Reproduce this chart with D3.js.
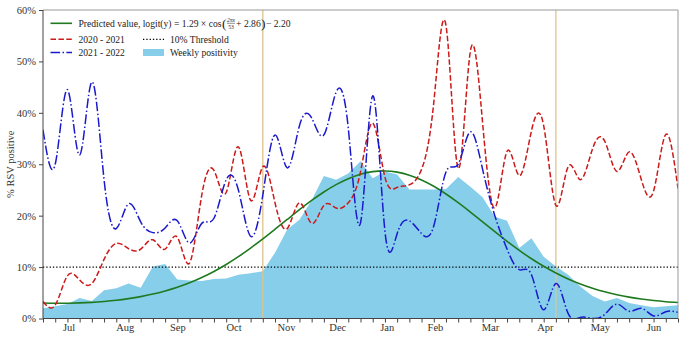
<!DOCTYPE html>
<html>
<head>
<meta charset="utf-8">
<script src="https://cdn.jsdelivr.net/npm/d3@7"></script>
<style>
  html, body { margin: 0; padding: 0; background: #fff; }
  svg { display: block; font-family: "Liberation Serif", "Times New Roman", serif; }
</style>
</head>
<body>
<svg id="chart" width="685" height="338"></svg>
<script>
// ---- data ----
const weeks = d3.range(1, 54);
const positivity = [2.0, 2.4, 2.8, 4.0, 3.4, 5.5, 5.9, 6.8, 6.0, 10.1,
  10.6, 7.6, 7.4, 7.3, 7.7, 7.8, 8.5, 8.8, 9.2, 12.8,
  17.3, 19.2, 23.0, 27.7, 27.0, 28.2, 30.6, 27.3, 28.6, 28.0,
  25.1, 25.1, 25.1, 25.2, 27.5, 25.6, 23.6, 19.8, 19.0, 13.7,
  15.6, 12.0, 10.1, 8.5, 6.2, 4.4, 3.3, 4.0, 3.0, 2.6,
  2.2, 2.4, 2.6];
const season2021 = [3.3, 2.6, 8.3, 7.5, 6.8, 11.5, 14.6, 13.6, 13.5, 15.3,
  13.5, 15.8, 10.8, 24.0, 28.8, 24.5, 33.4, 23.0, 29.5, 22.5,
  17.5, 22.5, 18.5, 22.0, 21.5, 22.5, 28.5, 38.0, 27.5, 25.5,
  26.0, 29.0, 42.0, 57.0, 29.2, 52.0, 38.0, 21.5, 32.5, 27.8,
  36.5, 37.5, 22.0, 29.5, 27.0, 33.0, 34.5, 28.6, 32.4, 27.0,
  24.8, 35.8, 25.3];
const season2122 = [36.7, 30.0, 44.5, 31.8, 46.0, 27.0, 17.5, 22.3, 18.8, 16.7,
  17.6, 19.0, 14.7, 18.5, 19.5, 27.0, 25.0, 16.0, 24.0, 35.7,
  29.3, 37.5, 39.0, 35.7, 44.0, 37.0, 18.6, 43.3, 17.0, 16.5,
  19.0, 16.5, 18.0, 28.5, 30.0, 36.3, 29.0, 20.0, 13.5, 9.5,
  8.5, 1.7, 6.8, 1.0, 0.2, 0.0, 0.8, 2.8, 1.4, 2.0,
  0.5, 1.3, 1.2];
const predicted = [3.01, 2.96, 2.97, 3.03, 3.14, 3.32, 3.55, 3.87, 4.26, 4.75,
  5.36, 6.08, 6.94, 7.97, 9.15, 10.50, 12.02, 13.69, 15.48, 17.36,
  19.26, 21.16, 22.96, 24.61, 26.04, 27.20, 28.06, 28.56, 28.70, 28.47,
  27.87, 26.94, 25.71, 24.22, 22.53, 20.70, 18.79, 16.88, 15.02, 13.26,
  11.62, 10.15, 8.84, 7.69, 6.72, 5.89, 5.19, 4.62, 4.15, 3.78,
  3.49, 3.27, 3.11];
const monthLabels = ["Jul", "Aug", "Sep", "Oct", "Nov", "Dec", "Jan", "Feb", "Mar", "Apr", "May", "Jun"];
const monthWeeks = [3.1, 7.7, 12.0, 16.6, 20.9, 25.1, 29.15, 33.1, 37.6, 42.1, 46.6, 51.0];
const yTicks = [0, 10, 20, 30, 40, 50, 60];
const thresholdValue = 10;
const markerWeeks = [19, 43];

// ---- layout ----
const W = 685, H = 338;
const margin = {left: 43, right: 7, top: 10, bottom: 19.5};
const svg = d3.select("#chart");
const x = d3.scaleLinear().domain([1, 53]).range([margin.left, W - margin.right]);
const y = d3.scaleLinear().domain([0, 60]).range([H - margin.bottom, margin.top]);

const C = {
  fill: "#87ceeb", green: "#1f7a1f", red: "#cc1a1a", blue: "#1a1acc",
  tan: "#dcc48e"
};

svg.append("defs").append("clipPath").attr("id", "clip")
  .append("rect").attr("x", x(1)).attr("y", y(60))
  .attr("width", x(53) - x(1)).attr("height", y(0) - y(60));

const plot = svg.append("g").attr("clip-path", "url(#clip)");

// weekly positivity area
plot.append("path")
  .datum(weeks)
  .attr("fill", C.fill)
  .attr("d", d3.area().x(w => x(w)).y0(y(0)).y1((w, i) => y(positivity[i])));

// marker lines
plot.selectAll(".marker").data(markerWeeks).join("line")
  .attr("x1", d => x(d)).attr("x2", d => x(d))
  .attr("y1", y(0)).attr("y2", y(60))
  .attr("stroke", C.tan).attr("stroke-width", 1.3);

// threshold
plot.append("line")
  .attr("x1", x(1)).attr("x2", x(53))
  .attr("y1", y(thresholdValue)).attr("y2", y(thresholdValue))
  .attr("stroke", "#000").attr("stroke-width", 1.2)
  .attr("stroke-dasharray", "1.3,2");

const lineOf = arr => d3.line().curve(d3.curveNatural)
  .x(w => x(w)).y((w, i) => y(arr[i]));

plot.append("path").datum(weeks).attr("fill", "none")
  .attr("stroke", C.green).attr("stroke-width", 1.6)
  .attr("d", lineOf(predicted));

plot.append("path").datum(weeks).attr("fill", "none")
  .attr("stroke", C.red).attr("stroke-width", 1.5)
  .attr("stroke-dasharray", "5.5,2.4")
  .attr("d", lineOf(season2021));

plot.append("path").datum(weeks).attr("fill", "none")
  .attr("stroke", C.blue).attr("stroke-width", 1.5)
  .attr("stroke-dasharray", "9.6,2.4,1.5,2.4")
  .attr("d", lineOf(season2122));

// ---- axes ----
const yAxis = svg.append("g").attr("transform", `translate(${margin.left},0)`)
  .call(d3.axisLeft(y).tickValues(yTicks).tickFormat(d => d + "%").tickSize(4).tickPadding(3));
const xTicksG = svg.append("g").attr("transform", `translate(0,${y(0)})`)
  .call(d3.axisBottom(x).tickValues(weeks).tickFormat("").tickSize(4));
const xLabG = svg.append("g").attr("transform", `translate(0,${y(0)})`)
  .call(d3.axisBottom(x).tickValues(monthWeeks).tickFormat((d, i) => monthLabels[i]).tickSize(0).tickPadding(5));

[yAxis, xTicksG, xLabG].forEach(g => {
  g.select(".domain").remove();
  g.selectAll("text").attr("font-family", "Liberation Serif, serif").attr("font-size", 10.5).attr("fill", "#333");
  g.selectAll("line").attr("stroke", "#444");
});

// frame
svg.append("line").attr("x1", x(1)).attr("x2", x(53)).attr("y1", y(60)).attr("y2", y(60)).attr("stroke", "#999");
svg.append("line").attr("x1", x(53)).attr("x2", x(53)).attr("y1", y(60)).attr("y2", y(0)).attr("stroke", "#999");
svg.append("line").attr("x1", x(1)).attr("x2", x(1)).attr("y1", y(60)).attr("y2", y(0)).attr("stroke", "#444");
svg.append("line").attr("x1", x(1)).attr("x2", x(53)).attr("y1", y(0)).attr("y2", y(0)).attr("stroke", "#444");

// y label
svg.append("text")
  .attr("transform", `translate(14,${(y(0) + y(60)) / 2}) rotate(-90)`)
  .attr("text-anchor", "middle")
  .attr("font-size", 10.5).attr("fill", "#333")
  .text("% RSV positive");

// ---- legend ----
const fs = 9.6;
const lg = svg.append("g").attr("font-size", fs).attr("fill", "#222");
// row 1
lg.append("line").attr("x1", 50.5).attr("x2", 72).attr("y1", 23.3).attr("y2", 23.3)
  .attr("stroke", C.green).attr("stroke-width", 1.6);
let cx = 78.5;
const by1 = 26.6;
function put(str, size, yy) {
  return lg.append("text").attr("x", cx).attr("y", yy).attr("font-size", size).text(str);
}
let t = put("Predicted value, logit(y) = 1.29 \u00d7 cos", fs, by1);
cx += t.node().getComputedTextLength() + 0.5;
t = put("(", 13.5, by1 + 1.5);
cx += t.node().getComputedTextLength() + 0.5;
const n1 = lg.append("text").attr("x", cx).attr("y", 22).attr("font-size", 5.6).attr("font-style", "italic").text("2\u03c0x");
const fw = n1.node().getComputedTextLength();
lg.append("text").attr("x", cx + fw / 2).attr("y", 28.6).attr("font-size", 5.6).attr("text-anchor", "middle").text("53");
lg.append("line").attr("x1", cx).attr("x2", cx + fw).attr("y1", 23.3).attr("y2", 23.3).attr("stroke", "#222").attr("stroke-width", 0.5);
cx += fw + 1;
t = put(" + 2.86", fs, by1);
cx += t.node().getComputedTextLength() + 0.3;
t = put(")", 13.5, by1 + 1.5);
cx += t.node().getComputedTextLength() + 0.5;
put(" \u2212 2.20", fs, by1);

// row 2
lg.append("line").attr("x1", 50.5).attr("x2", 72).attr("y1", 39.3).attr("y2", 39.3)
  .attr("stroke", C.red).attr("stroke-width", 1.5).attr("stroke-dasharray", "5.5,2.4");
lg.append("text").attr("x", 78.5).attr("y", 42.7).text("2020 - 2021");
lg.append("line").attr("x1", 143).attr("x2", 164).attr("y1", 39.3).attr("y2", 39.3)
  .attr("stroke", "#000").attr("stroke-width", 1.2).attr("stroke-dasharray", "1.3,2");
lg.append("text").attr("x", 170).attr("y", 42.7).text("10% Threshold");
// row 3
lg.append("line").attr("x1", 50.5).attr("x2", 72).attr("y1", 52.5).attr("y2", 52.5)
  .attr("stroke", C.blue).attr("stroke-width", 1.5).attr("stroke-dasharray", "9.6,2.4,1.5,2.4");
lg.append("text").attr("x", 78.5).attr("y", 55.9).text("2021 - 2022");
lg.append("rect").attr("x", 143).attr("y", 49).attr("width", 21).attr("height", 7).attr("fill", C.fill);
lg.append("text").attr("x", 170).attr("y", 55.9).text("Weekly positivity");
</script>
</body>
</html>
